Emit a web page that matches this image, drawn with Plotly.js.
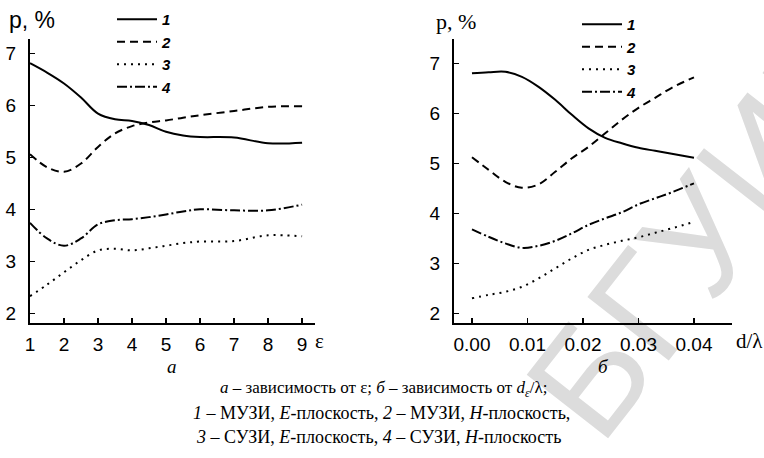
<!DOCTYPE html>
<html>
<head>
<meta charset="utf-8">
<script src="https://cdn.plot.ly/plotly-3.0.1.min.js"></script>
<style>html,body{margin:0;padding:0;background:#fff}#chart{width:764px;height:458px}</style>
</head>
<body>
<div id="chart"></div>
<script>
// Panel a: p vs epsilon
const eps = [1, 1.5, 2, 2.5, 3, 3.5, 4, 4.5, 5, 5.5, 6, 7, 8, 9];
const a1 = [6.81, 6.63, 6.42, 6.15, 5.84, 5.73, 5.70, 5.62, 5.49, 5.42, 5.39, 5.38, 5.27, 5.28];
const a2 = [5.06, 4.81, 4.72, 4.88, 5.20, 5.46, 5.60, 5.67, 5.71, 5.76, 5.81, 5.89, 5.97, 5.98];
const a3 = [2.33, 2.55, 2.79, 3.02, 3.21, 3.24, 3.21, 3.25, 3.30, 3.35, 3.38, 3.39, 3.50, 3.48];
const a4 = [3.74, 3.44, 3.30, 3.44, 3.71, 3.79, 3.81, 3.85, 3.90, 3.96, 4.00, 3.98, 3.98, 4.09];
// Panel b: p vs d/lambda
const dl = [0, 0.003, 0.006, 0.009, 0.012, 0.015, 0.018, 0.021, 0.024, 0.027, 0.030, 0.033, 0.036, 0.040];
const b1 = [6.80, 6.82, 6.83, 6.73, 6.53, 6.27, 5.97, 5.70, 5.51, 5.40, 5.31, 5.25, 5.19, 5.11];
const b2 = [5.12, 4.87, 4.63, 4.51, 4.58, 4.83, 5.10, 5.33, 5.60, 5.87, 6.11, 6.31, 6.51, 6.72];
const b3 = [2.30, 2.37, 2.43, 2.53, 2.70, 2.90, 3.10, 3.27, 3.37, 3.45, 3.52, 3.61, 3.70, 3.83];
const b4 = [3.68, 3.53, 3.40, 3.31, 3.35, 3.45, 3.60, 3.77, 3.90, 4.02, 4.18, 4.30, 4.42, 4.60];
const seriesNames = ['1', '2', '3', '4'];
const yTicks = [2, 3, 4, 5, 6, 7];
const xTicksA = [1, 2, 3, 4, 5, 6, 7, 8, 9];
const xTicksB = [0, 0.01, 0.02, 0.03, 0.04];
const xTickTextB = ['0.00', '0.01', '0.02', '0.03', '0.04'];

const W = 764, H = 458;
const px = v => v / W, py = v => 1 - v / H;
const dashes = ['solid', '8px,5px', '2px,5px', '10px,3px,2px,3px'];
const serA = [a1, a2, a3, a4], serB = [b1, b2, b3, b4];
const traces = [];
serA.forEach((s, i) => traces.push({
  x: eps, y: s, xaxis: 'x', yaxis: 'y', mode: 'lines', name: '<b><i>' + seriesNames[i] + '</i></b>',
  line: {color: '#000', width: 2, dash: dashes[i], shape: 'spline', smoothing: 1}, legend: 'legend'
}));
serB.forEach((s, i) => traces.push({
  x: dl, y: s, xaxis: 'x2', yaxis: 'y2', mode: 'lines', name: '<b><i>' + seriesNames[i] + '</i></b>',
  line: {color: '#000', width: 2, dash: dashes[i], shape: 'spline', smoothing: 1}, legend: 'legend2'
}));

const axCommon = {
  showgrid: false, zeroline: false, showline: true, linecolor: '#000', linewidth: 2,
  ticks: 'inside', ticklen: 5, tickwidth: 1.5, tickcolor: '#000',
  tickfont: {family: 'Liberation Sans, Arial, sans-serif', size: 19, color: '#000'}
};
const yDom = [1 - 323 / H, 1 - 39 / H];
const serif = 'Liberation Serif, Times New Roman, serif';
const sans = 'Liberation Sans, Arial, sans-serif';
function ann(text, x, y, family, size, extra) {
  return Object.assign({text: text, xref: 'paper', yref: 'paper', x: px(x), y: py(y), xanchor: 'center', yanchor: 'middle',
    showarrow: false, font: {family: family, size: size, color: '#000'}}, extra || {});
}
const layout = {
  width: W, height: H, margin: {l: 0, r: 0, t: 0, b: 0},
  paper_bgcolor: '#fff', plot_bgcolor: 'rgba(0,0,0,0)',
  xaxis: Object.assign({}, axCommon, {domain: [px(30), px(315)], range: [1, 9.38], tickvals: xTicksA, anchor: 'y', ticklabelstandoff: 3}),
  yaxis: Object.assign({}, axCommon, {domain: yDom, range: [1.814, 7.275], tickvals: yTicks, anchor: 'x', ticklabelstandoff: 8}),
  xaxis2: Object.assign({}, axCommon, {domain: [px(454), px(732)], range: [-0.00324, 0.04685], tickvals: xTicksB, ticktext: xTickTextB, anchor: 'y2', ticklabelstandoff: 3}),
  yaxis2: Object.assign({}, axCommon, {domain: yDom, range: [1.807, 7.486], tickvals: yTicks, anchor: 'x2', ticklabelstandoff: 8}),
  showlegend: true,
  legend: {x: px(112), y: py(3), xanchor: 'left', yanchor: 'top', bgcolor: 'rgba(0,0,0,0)', itemwidth: 40, tracegroupgap: 0,
    font: {family: sans, size: 15, color: '#000'}, traceorder: 'normal'},
  legend2: {x: px(577), y: py(8), xanchor: 'left', yanchor: 'top', bgcolor: 'rgba(0,0,0,0)', itemwidth: 40, tracegroupgap: 0,
    font: {family: sans, size: 15, color: '#000'}, traceorder: 'normal'},
  annotations: [
    ann('БГУИР', 708, 226, sans, 150, {textangle: -52, font: {family: sans, size: 150, color: '#dcdcdc'}}),
    ann('p, %', 32, 20, sans, 23),
    ann('p, %', 456, 21, serif, 22),
    ann('ε', 319, 341, serif, 21),
    ann('d/λ', 749, 341, serif, 21),
    ann('<i>а</i>', 172, 366, serif, 19),
    ann('<i>б</i>', 603, 366, serif, 19),
    ann('<i>а</i> – зависимость от ε; <i>б</i> – зависимость от <i>d</i><sub><i>ε</i></sub>/λ;', 383, 389, serif, 17),
    ann('<i>1</i> – МУЗИ, <i>E</i>-плоскость, <i>2</i> – МУЗИ, <i>H</i>-плоскость,', 381, 413, serif, 18),
    ann('<i>3</i> – СУЗИ, <i>E</i>-плоскость, <i>4</i> – СУЗИ, <i>H</i>-плоскость', 378, 437, serif, 18)
  ]
};
Plotly.newPlot('chart', traces, layout, {staticPlot: true, displayModeBar: false}).then(gd => {
  // put the watermark behind the axes and curves
  const wm = gd.querySelector('.annotation[data-index="0"]');
  const below = gd.querySelector('.main-svg .layer-below');
  if (wm && below) below.appendChild(wm);
});
</script>
</body>
</html>
